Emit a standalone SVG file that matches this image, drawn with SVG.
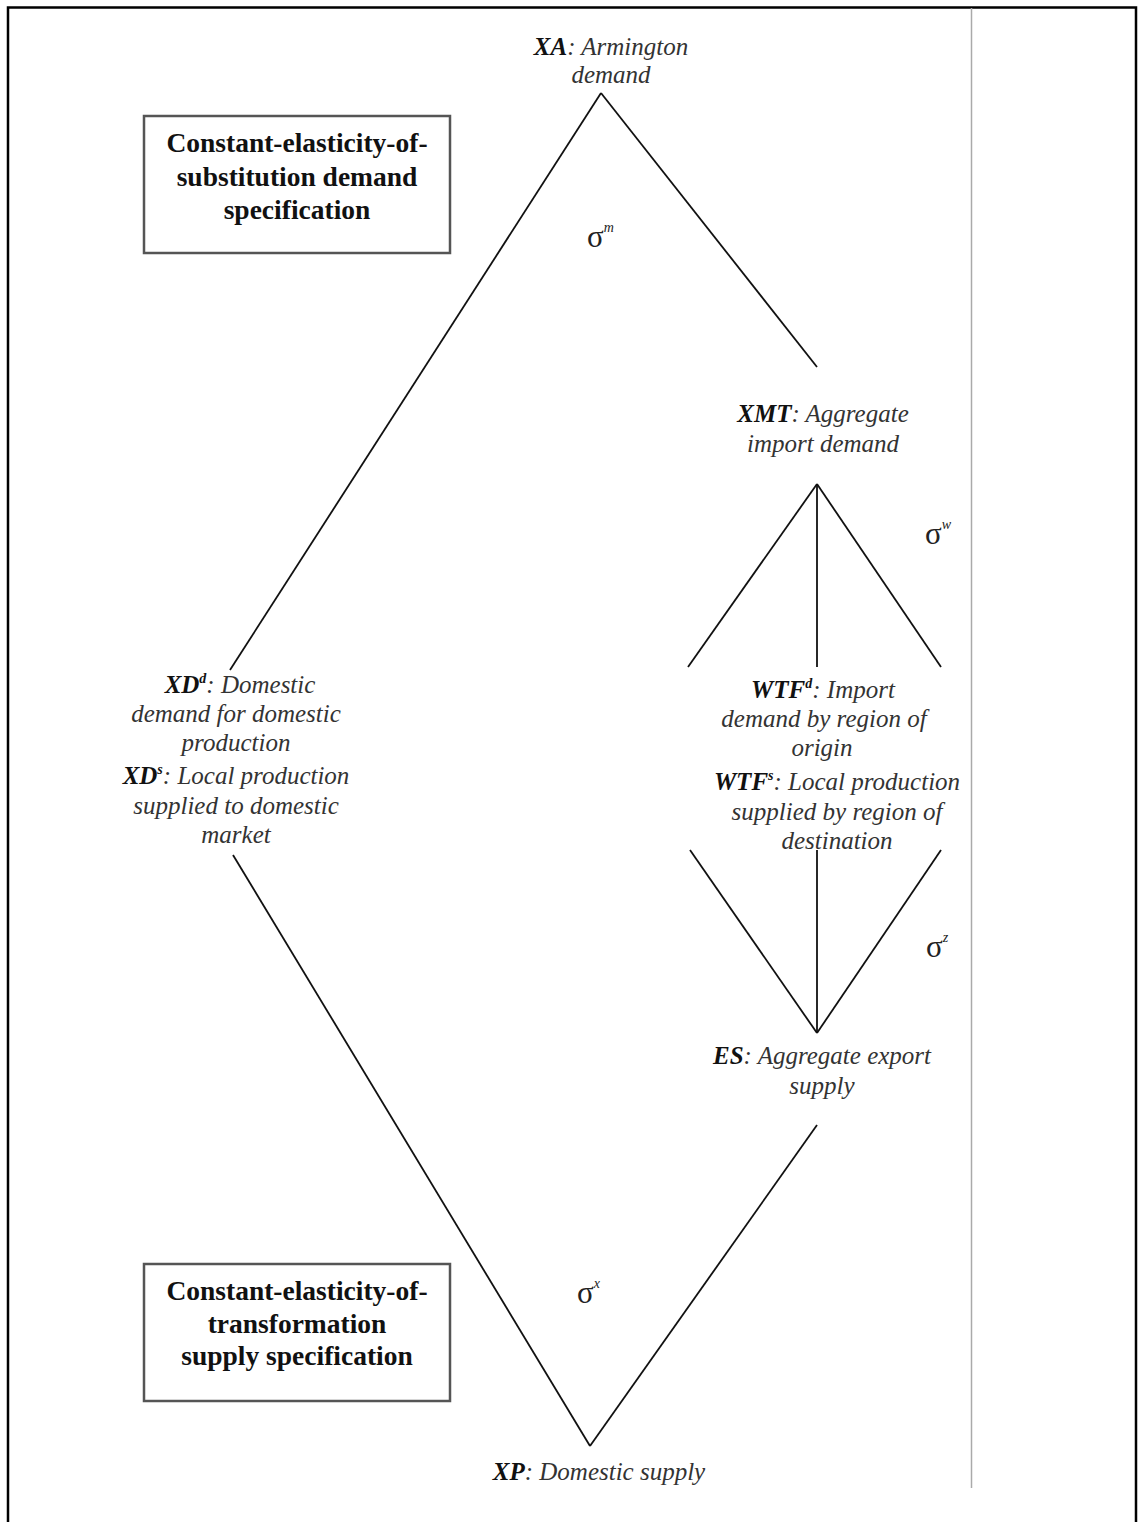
<svg xmlns="http://www.w3.org/2000/svg" width="1138" height="1522" viewBox="0 0 1138 1522">
<style>
text{font-family:'Liberation Serif','Times New Roman','DejaVu Serif',serif}
.lbl{font-size:25px;font-style:italic;fill:#333;text-anchor:middle}
.b{font-weight:bold;fill:#111}
.box{fill:#fff;stroke:#555;stroke-width:2.5}
.bt{font-size:27.5px;font-weight:bold;fill:#111;text-anchor:middle}
.sig{font-size:31px;fill:#222}
.sup{font-size:14px;font-style:italic}
.ln{stroke:#111;stroke-width:1.8;fill:none}
</style>
<rect width="1138" height="1522" fill="#fff"/>
<g id="frame">
<path d="M8 1522 V7.5 H1136 V1522" fill="none" stroke="#000" stroke-width="2.5"/>
<line x1="971.5" y1="8" x2="971.5" y2="1488" stroke="#aaa" stroke-width="1.5"/>
</g>
<g id="connectors" class="ln">
<line x1="601" y1="93" x2="230" y2="670"/>
<line x1="601" y1="93" x2="817" y2="367"/>
<line x1="817" y1="484" x2="688" y2="667"/>
<line x1="817" y1="484" x2="817" y2="667"/>
<line x1="817" y1="484" x2="941" y2="667"/>
<line x1="690" y1="850" x2="817" y2="1033"/>
<line x1="817" y1="850" x2="817" y2="1033"/>
<line x1="941" y1="850" x2="817" y2="1033"/>
<line x1="233" y1="855" x2="590" y2="1446"/>
<line x1="817" y1="1125" x2="590" y2="1446"/>
</g>
<g id="box-ces">
<rect class="box" x="144" y="116" width="306" height="137"/>
<text class="bt" x="297" y="152">Constant-elasticity-of-</text>
<text class="bt" x="297" y="186">substitution demand</text>
<text class="bt" x="297" y="219">specification</text>
</g>
<g id="box-cet">
<rect class="box" x="144" y="1264" width="306" height="137"/>
<text class="bt" x="297" y="1300">Constant-elasticity-of-</text>
<text class="bt" x="297" y="1333">transformation</text>
<text class="bt" x="297" y="1365">supply specification</text>
</g>
<g id="node-xa">
<text class="lbl" x="611" y="55"><tspan class="b">XA</tspan>: Armington</text>
<text class="lbl" x="611" y="83">demand</text>
</g>
<g id="sigma-m"><text class="sig" x="587" y="247">σ<tspan class="sup" dy="-15">m</tspan></text></g>
<g id="node-xmt">
<text class="lbl" x="823" y="422"><tspan class="b">XMT</tspan>: Aggregate</text>
<text class="lbl" x="823" y="452">import demand</text>
</g>
<g id="sigma-w"><text class="sig" x="925" y="544">σ<tspan class="sup" dy="-15">w</tspan></text></g>
<g id="node-wtf">
<text class="lbl" x="823" y="698"><tspan class="b">WTF<tspan class="sup" dy="-10">d</tspan></tspan><tspan dy="10">: Import</tspan></text>
<text class="lbl" x="824" y="727">demand by region of</text>
<text class="lbl" x="822" y="756">origin</text>
<text class="lbl" x="837" y="790"><tspan class="b">WTF<tspan class="sup" dy="-10">s</tspan></tspan><tspan dy="10">: Local production</tspan></text>
<text class="lbl" x="837" y="820">supplied by region of</text>
<text class="lbl" x="837" y="849">destination</text>
</g>
<g id="sigma-z"><text class="sig" x="926" y="957">σ<tspan class="sup" dy="-15">z</tspan></text></g>
<g id="node-es">
<text class="lbl" x="822" y="1064"><tspan class="b">ES</tspan>: Aggregate export</text>
<text class="lbl" x="822" y="1094">supply</text>
</g>
<g id="sigma-x"><text class="sig" x="577" y="1303">σ<tspan class="sup" dy="-15">x</tspan></text></g>
<g id="node-xp">
<text class="lbl" x="599" y="1480"><tspan class="b">XP</tspan>: Domestic supply</text>
</g>
<g id="node-xd">
<text class="lbl" x="240" y="693"><tspan class="b">XD<tspan class="sup" dy="-10">d</tspan></tspan><tspan dy="10">: Domestic</tspan></text>
<text class="lbl" x="236" y="722">demand for domestic</text>
<text class="lbl" x="236" y="751">production</text>
<text class="lbl" x="236" y="784"><tspan class="b">XD<tspan class="sup" dy="-10">s</tspan></tspan><tspan dy="10">: Local production</tspan></text>
<text class="lbl" x="236" y="814">supplied to domestic</text>
<text class="lbl" x="236" y="843">market</text>
</g>
</svg>
